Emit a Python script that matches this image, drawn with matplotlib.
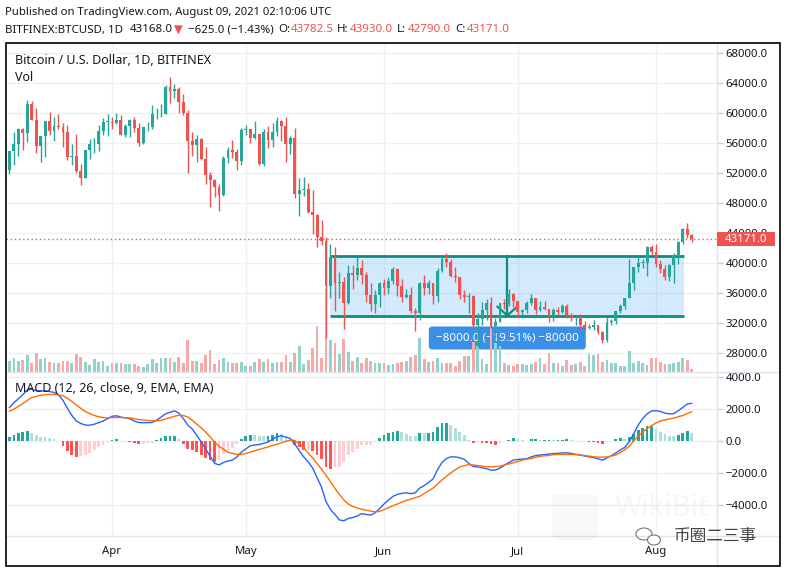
import numpy as np
import pandas as pd
import matplotlib
matplotlib.use("Agg")
import matplotlib.pyplot as plt
from matplotlib.patches import Rectangle, FancyBboxPatch, Ellipse
from matplotlib.lines import Line2D
from matplotlib.transforms import blended_transform_factory

plt.rcParams['font.family'] = ['Noto Sans', 'DejaVu Sans']

# ---------------- data ----------------
dates = pd.date_range("2021-03-09", "2021-08-09", freq="D")

open_ = [52400, 54900, 55900, 57800, 57300, 61200, 59000, 55600, 56900, 58900,
         57600, 58300, 58100, 57400, 54100, 54300, 52300, 51300, 55100, 55800,
         55800, 57600, 58800, 58800, 58700, 59000, 57100, 58200, 59100, 58000,
         56000, 58100, 58100, 59800, 59800, 59900, 63500, 62900, 63200, 61500,
         60000, 56200, 55700, 56500, 53800, 51700, 51100, 50100, 49100, 54000,
         55000, 54800, 53600, 57700, 57800, 56600, 57200, 53200, 57500, 56400,
         57400, 58900, 58300, 55800, 56700, 49200, 49700, 49900, 46800, 46400,
         43500, 42900, 37000, 40800, 37300, 37500, 34700, 38700, 38400, 39300,
         38400, 35700, 34600, 35700, 37300, 36700, 37600, 39200, 36900, 35500,
         35800, 33600, 33400, 37400, 36700, 37300, 35600, 39000, 40500, 40200,
         38300, 38100, 35800, 35500, 35600, 31700, 32500, 33700, 34700, 31600,
         32200, 34700, 34500, 35900, 35000, 33500, 33800, 34700, 35300, 33700,
         34200, 33900, 32900, 33800, 33500, 34300, 33100, 32700, 32800, 31800,
         31400, 31500, 31800, 30800, 29800, 32100, 32300, 33600, 34300, 35400,
         37300, 39500, 40000, 40000, 42200, 41500, 39900, 39200, 38200, 39700,
         40900, 42800, 44600, 43782.5]
high = [54900, 57400, 58000, 58000, 61700, 61600, 60600, 56900, 58900, 60100,
        59400, 59800, 58600, 58400, 55800, 57200, 53200, 55100, 56500, 56600,
        58400, 59300, 59800, 59500, 60000, 59700, 58500, 59200, 59400, 58600,
        58100, 58800, 61000, 60700, 61200, 63700, 64800, 63800, 63500, 62500,
        60400, 57500, 57000, 56700, 55400, 52100, 51200, 50500, 54300, 55400,
        56400, 55200, 58000, 58400, 57900, 58900, 57200, 57900, 58300, 58600,
        59400, 59100, 59500, 56900, 58000, 51300, 51500, 50600, 49700, 46600,
        45800, 43500, 42500, 42200, 38800, 38200, 39800, 39800, 40800, 40400,
        38800, 37300, 36400, 37500, 37900, 38200, 39500, 39300, 37900, 36500,
        36800, 34000, 37500, 38400, 37700, 37400, 39300, 41000, 41300, 40500,
        39500, 38200, 36400, 36000, 35700, 33300, 34800, 35200, 35500, 32700,
        34700, 35200, 36600, 36000, 35000, 33900, 34900, 35900, 35300, 35000,
        35000, 33900, 34000, 34200, 34600, 34600, 33300, 33100, 33200, 32300,
        31900, 32400, 31800, 31000, 32800, 32600, 33600, 34500, 35400, 40500,
        39500, 40900, 40600, 42300, 42400, 42600, 40400, 39800, 39900, 41400,
        43000, 44700, 45300, 43930]
low = [51900, 53100, 54300, 55000, 56100, 59000, 54600, 53400, 54100, 57000,
       56300, 57900, 55500, 53700, 53000, 52000, 50400, 51300, 53900, 54700,
       54900, 57000, 56900, 57900, 58500, 57000, 56800, 56800, 57400, 55600,
       55900, 57600, 57800, 59200, 59400, 59800, 61300, 62000, 60000, 59700,
       52000, 54200, 53400, 53700, 50500, 47500, 48800, 47000, 48900, 53300,
       54000, 52400, 53000, 57100, 56000, 56500, 53100, 52900, 55300, 55500,
       56900, 56200, 53400, 54500, 48600, 46300, 48900, 46700, 43900, 42200,
       42400, 30000, 35300, 33600, 35400, 31200, 34600, 36500, 37800, 37200,
       34800, 33600, 33400, 34200, 35700, 35900, 37200, 35600, 34800, 35300,
       33400, 31000, 32400, 35800, 35900, 34600, 34800, 38800, 39500, 38100,
       37500, 35200, 34800, 33400, 31300, 28800, 31700, 32400, 31300, 30200,
       32100, 33900, 34300, 34100, 32800, 32700, 33300, 34400, 33200, 33600,
       33800, 32100, 32300, 33100, 33300, 32700, 32300, 31700, 31200, 31100,
       31200, 31100, 30500, 29300, 29500, 31700, 31900, 33400, 33900, 35300,
       36400, 38800, 39300, 38300, 41100, 39500, 38700, 37700, 37600, 37400,
       39900, 42500, 43300, 42790]
close = [54900, 55900, 57800, 57300, 61200, 59000, 55600, 56900, 58900, 57600,
         58300, 58100, 57400, 54100, 54300, 52300, 51300, 55100, 55800, 55800,
         57600, 58800, 58800, 58700, 59000, 57100, 58200, 59100, 58000, 56000,
         58100, 58100, 59800, 59800, 59900, 63500, 62900, 63200, 61500, 60000,
         56200, 55700, 56500, 53800, 51700, 51100, 50100, 49100, 54000, 55000,
         54800, 53600, 57700, 57800, 56600, 57200, 53200, 57500, 56400, 57400,
         58900, 58300, 55800, 56700, 49200, 49700, 49900, 46800, 46400, 43500,
         42900, 37000, 40800, 37300, 37500, 34700, 38700, 38400, 39300, 38400,
         35700, 34600, 35700, 37300, 36700, 37600, 39200, 36900, 35500, 35800,
         33600, 33400, 37400, 36700, 37300, 35600, 39000, 40500, 40200, 38300,
         38100, 35800, 35500, 35600, 31700, 32500, 33700, 34700, 31600, 32200,
         34700, 34500, 35900, 35000, 33500, 33800, 34700, 35300, 33700, 34200,
         33900, 32900, 33800, 33500, 34300, 33100, 32700, 32800, 31800, 31400,
         31500, 31800, 30800, 29800, 32100, 32300, 33600, 34300, 35400, 37300,
         39500, 40000, 40000, 42200, 41500, 39900, 39200, 38200, 39700, 40900,
         42800, 44600, 43800, 43171]
volume = [11, 14, 11, 12, 17, 9, 19, 13, 14, 10, 9, 9, 11, 11, 9, 18, 15, 10, 7, 13,
          10, 11, 6, 9, 9, 9, 8, 8, 8, 6, 5, 8, 13, 9, 14, 14, 14, 10, 15, 9,
          32, 11, 11, 9, 17, 22, 8, 12, 14, 10, 9, 9, 10, 6, 6, 10, 13, 10, 13, 9,
          10, 10, 17, 10, 19, 26, 8, 12, 24, 46, 14, 83, 32, 29, 18, 33, 20, 11, 15, 9,
          14, 11, 9, 9, 9, 7, 8, 9, 10, 11, 15, 17, 34, 13, 10, 11, 14, 9, 9, 9,
          6, 11, 16, 16, 30, 26, 13, 8, 44, 29, 26, 9, 7, 6, 8, 8, 7, 8, 10, 14,
          8, 19, 9, 9, 6, 12, 7, 8, 10, 6, 18, 17, 18, 10, 12, 9, 9, 6, 6, 21,
          9, 11, 9, 7, 14, 14, 10, 8, 8, 9, 10, 14, 12, 3]
macd = [2100, 2400, 2650, 2900, 3200, 3250, 3150, 3150, 3150, 3100,
        3050, 2900, 2550, 2050, 1600, 1250, 1100, 1000, 990, 1050,
        1150, 1250, 1400, 1550, 1580, 1500, 1450, 1400, 1250, 1160,
        1150, 1150, 1160, 1300, 1500, 1700, 1800, 1890, 1750, 1400,
        1000, 750, 350, -50, -500, -950, -1400, -1500, -1350, -1250,
        -1200, -1000, -700, -500, -300, -250, -220, -150, -60, 100,
        280, 320, 250, 150, -200, -600, -1000, -1300, -1700, -2300,
        -2900, -3800, -4300, -4600, -4950, -5000, -4850, -4800, -4700, -4550,
        -4600, -4650, -4500, -4250, -3950, -3700, -3470, -3350, -3280, -3250,
        -3300, -3250, -2950, -2800, -2600, -2380, -1800, -1350, -1100, -990,
        -1000, -1050, -1150, -1400, -1600, -1620, -1680, -1740, -1830, -1820,
        -1700, -1520, -1350, -1200, -1160, -1130, -1110, -1000, -910, -880,
        -850, -820, -790, -770, -750, -740, -780, -840, -880, -940,
        -990, -1040, -1120, -1200, -1060, -920, -750, -560, -400, -50,
        450, 1000, 1400, 1700, 1880, 1900, 1850, 1750, 1700, 1720,
        1900, 2100, 2320, 2360]
signal = [1870, 2000, 2170, 2350, 2550, 2720, 2800, 2870, 2910, 2920,
          2920, 2880, 2840, 2680, 2470, 2260, 2050, 1850, 1720, 1600,
          1520, 1470, 1460, 1470, 1480, 1470, 1460, 1440, 1400, 1350,
          1320, 1290, 1270, 1265, 1300, 1380, 1460, 1550, 1610, 1600,
          1500, 1300, 1060, 830, 560, 270, -70, -330, -510, -700,
          -780, -830, -840, -790, -700, -610, -530, -450, -370, -280,
          -210, -110, -20, 60, 40, -200, -420, -760, -1050, -1420,
          -1770, -2150, -2560, -2970, -3350, -3700, -3950, -4100, -4200, -4280,
          -4330, -4400, -4430, -4420, -4300, -4180, -4060, -3950, -3830, -3720,
          -3640, -3550, -3470, -3300, -3130, -2950, -2700, -2450, -2210, -2000,
          -1800, -1620, -1550, -1480, -1500, -1540, -1580, -1610, -1620, -1600,
          -1580, -1500, -1430, -1370, -1290, -1200, -1140, -1100, -1020, -960,
          -930, -900, -860, -845, -840, -840, -840, -850, -880, -910,
          -950, -990, -1010, -1010, -1000, -940, -880, -730, -550, -320,
          0, 310, 560, 780, 960, 1130, 1260, 1320, 1380, 1430,
          1520, 1600, 1720, 1830]

price_ticks = [28000, 32000, 36000, 40000, 44000, 48000, 52000, 56000, 60000, 64000, 68000]
macd_ticks = [4000, 2000, 0, -2000, -4000]
macd_tick_labels = ["4000.0", "2000.0", "0.0", "\u22122000.0", "\u22124000.0"]
month_starts = ["2021-04-01", "2021-05-01", "2021-06-01", "2021-07-01", "2021-08-01"]
month_labels = ["Apr", "May", "Jun", "Jul", "Aug"]
last_price = 43171.0
range_top, range_bottom = 41000.0, 33000.0
range_start, range_end = "2021-05-20", "2021-08-07"
range_label = "\u22128000.0 (\u221219.51%) \u221280000"

header1 = "Published on TradingView.com, August 09, 2021 02:10:06 UTC"
title = "Bitcoin / U.S. Dollar, 1D, BITFINEX"
macd_title = "MACD (12, 26, close, 9, EMA, EMA)"

for arr in (open_, high, low, close, volume, macd, signal):
    assert len(arr) == len(dates), len(arr)

# ---------------- style ----------------
UP, DOWN = "#26A69A", "#EF5350"
VOL_UP, VOL_DN = "#92D2CC", "#F7A9A7"
TXT = "#131722"
GRID = "#EEF0F3"
SEP = "#E0E3EB"
TEAL = "#0E8C7F"

W, H = 787, 571
fig = plt.figure(figsize=(W / 100, H / 100), dpi=100)


def box(x0, y0, x1, y1):
    return [x0 / W, 1 - y1 / H, (x1 - x0) / W, (y1 - y0) / H]


ax = fig.add_axes(box(6, 43, 717, 372))
axm = fig.add_axes(box(6, 372, 717, 536))

x = np.arange(len(dates))
o = np.array(open_, float); h = np.array(high, float)
l = np.array(low, float); c = np.array(close, float)
up = c >= o

PXD = 4.459   # pixels per day
X0 = 9.44     # pixel of first candle
xlim = ((6 - X0) / PXD, (717 - X0) / PXD)
for a in (ax, axm):
    a.set_xlim(*xlim)
    for s in a.spines.values():
        s.set_visible(False)
ax.set_ylim(25467, 69333)
axm.set_ylim(-5956, 4326)

idx = {d: i for i, d in enumerate(dates.strftime("%Y-%m-%d"))}
month_x = [idx[m] for m in month_starts]

# grid
for p in price_ticks:
    ax.axhline(p, color=GRID, lw=1, zorder=0)
for t in macd_ticks:
    axm.axhline(t, color=GRID, lw=1, zorder=0)
for mx in month_x:
    ax.axvline(mx, color=GRID, lw=1, zorder=0)
    axm.axvline(mx, color=GRID, lw=1, zorder=0)

# price range tool (behind everything)
rx0, rx1 = idx[range_start], idx[range_end] + 0.3
ax.add_patch(Rectangle((rx0, range_bottom), rx1 - rx0, range_top - range_bottom,
                       facecolor="#2196F3", alpha=0.2, edgecolor="none", zorder=0.5))
ax.plot([rx0, rx1], [range_top, range_top], color=TEAL, lw=2, zorder=0.6, solid_capstyle="butt")
ax.plot([rx0, rx1], [range_bottom, range_bottom], color=TEAL, lw=2, zorder=0.6, solid_capstyle="butt")
rxc = (rx0 + rx1) / 2
ax.plot([rxc, rxc], [range_top, range_bottom], color=TEAL, lw=1.6, zorder=0.7)

# volume (overlay at bottom of main pane)
vtr = blended_transform_factory(ax.transData, ax.transAxes)
VOL_AXIS_MAX = 329.0
ax.bar(x, np.array(volume) / VOL_AXIS_MAX, width=0.62, bottom=0,
       color=[VOL_UP if u else VOL_DN for u in up], transform=vtr, zorder=1.5)

# candles
col = [UP if u else DOWN for u in up]
ax.vlines(x, l, h, colors=col, lw=1, zorder=3)
body = np.maximum(np.abs(c - o), 70)
ax.bar(x, body, bottom=np.minimum(o, c), width=0.64, color=col, zorder=3.1)

# last price dotted line
ax.axhline(last_price, color=DOWN, lw=1, ls=(0, (1, 2)), zorder=2.5)

# MACD pane
mc = np.array(macd, float); sg = np.array(signal, float)
hist = mc - sg
hcol = []
for i, v in enumerate(hist):
    prev = hist[i - 1] if i > 0 else v
    if v >= 0:
        hcol.append("#26A69A" if v >= prev else "#B2DFDB")
    else:
        hcol.append("#FF5252" if v < prev else "#FFCDD2")
axm.bar(x, hist, width=0.62, color=hcol, zorder=1)
axm.plot(x, mc, color="#2962FF", lw=1, zorder=2)
axm.plot(x, sg, color="#FF6D00", lw=1, zorder=2)

# ticks
for a in (ax, axm):
    a.yaxis.tick_right()
    a.tick_params(axis="y", length=4, width=1, color="#C9CCD3", labelcolor=TXT,
                  labelsize=8.2, pad=2)
ax.set_yticks(price_ticks)
ax.set_yticklabels([f"{p:.1f}" for p in price_ticks])
axm.set_yticks(macd_ticks)
axm.set_yticklabels(macd_tick_labels)
ax.set_xticks([])
axm.set_xticks(month_x)
axm.set_xticklabels(month_labels)
axm.tick_params(axis="x", length=0, labelsize=8.2, labelcolor=TXT, pad=7)

fig.canvas.draw()
inch = fig.dpi_scale_trans

# arrow head at bottom of the range tool's vertical line
tx, ty = ax.transData.transform((rxc, range_bottom))
for dx in (-10, 10):
    ax.add_line(Line2D([tx / 100, (tx + dx) / 100], [ty / 100, (ty + 9) / 100], transform=inch,
                       color=TEAL, lw=1.6, zorder=0.7, solid_capstyle="round"))

# price tag on axis
_, py = ax.transData.transform((0, last_price))
fig.add_artist(Rectangle((717 / 100, (py - 7) / 100), 58 / 100, 14 / 100, transform=inch,
                         facecolor=DOWN, edgecolor="none", zorder=20))
fig.text(746 / W, py / H, f"{last_price:.1f}", color="white", fontsize=8.2, fontweight="bold",
         ha="center", va="center", zorder=21)

# range label (drawn under candles and volume)
lw_, lh_ = 157, 23
lab_top = ty - 11
ax.add_patch(FancyBboxPatch(((tx - lw_ / 2) / 100, (lab_top - lh_) / 100), lw_ / 100, lh_ / 100,
                            boxstyle="round,pad=0,rounding_size=0.035", transform=inch,
                            facecolor="#3A8FE6", edgecolor="none", zorder=0.8))
ax.text(tx / 100, (lab_top - lh_ / 2) / 100, range_label, transform=inch,
        color="white", fontsize=8.3, ha="center", va="center", zorder=0.9)

# pane labels
fig.text(15 / W, 1 - 60.5 / H, title, fontsize=9, fontweight="semibold", color=TXT, va="center")
fig.text(15 / W, 1 - 77 / H, "Vol", fontsize=9, color=TXT, va="center")
fig.text(15 / W, 1 - 389 / H, macd_title, fontsize=9, color=TXT, va="center")

# header
fig.text(5 / W, 1 - 12.7 / H, header1, fontsize=8.1, color=TXT, va="center")
pieces = [("BITFINEX:BTCUSD, 1D", 5, "bold", TXT),
          ("43168.0", 130, "normal", TXT),
          ("\u25BC", 174, "normal", DOWN),
          ("\u2212625.0 (\u22121.43%)", 188, "normal", TXT),
          ("O:", 278, "bold", TXT), ("43782.5", 290.5, "normal", DOWN),
          ("H:", 337, "bold", TXT), ("43930.0", 349.5, "normal", DOWN),
          ("L:", 397, "bold", TXT), ("42790.0", 408, "normal", DOWN),
          ("C:", 455, "bold", TXT), ("43171.0", 467, "normal", DOWN)]
for s, px, wt, cl in pieces:
    fam = ["DejaVu Sans"] if s == "\u25BC" else ["Noto Sans", "DejaVu Sans"]
    fig.text(px / W, 1 - 30 / H, s, fontsize=8.3, fontweight=wt, color=cl, va="center", family=fam)

# separators and frame
def hline(y, x0, x1, color, lw):
    fig.add_artist(Line2D([x0 / W, x1 / W], [1 - y / H] * 2, transform=fig.transFigure, color=color, lw=lw))

def vline(xp, y0, y1, color, lw):
    fig.add_artist(Line2D([xp / W] * 2, [1 - y0 / H, 1 - y1 / H], transform=fig.transFigure, color=color, lw=lw))

hline(372, 6, 780, SEP, 1)
hline(536, 6, 780, SEP, 1)
vline(717, 43, 566, SEP, 1)
fig.add_artist(Rectangle((6 / W, 1 - 566 / H), 774 / W, 523 / H, transform=fig.transFigure,
                         fill=False, edgecolor="black", lw=1.2, zorder=30))

# watermark
fig.text(662 / W, 1 - 508 / H, "WikiBit", fontsize=21, fontweight="bold", color="#888888",
         alpha=0.07, ha="center", va="center", zorder=25)
fig.add_artist(FancyBboxPatch((552 / W, 1 - 540 / H), 46 / W, 46 / H, boxstyle="round,pad=0,rounding_size=0.01",
                              transform=fig.transFigure, facecolor="#888888", alpha=0.06,
                              edgecolor="none", zorder=25))
fig.add_artist(Ellipse((644 / W, 1 - 534 / H), 16 / W, 12 / H, transform=fig.transFigure,
                       fill=False, edgecolor="#777777", lw=0.8, zorder=26))
fig.add_artist(Ellipse((654 / W, 1 - 540 / H), 13 / W, 10 / H, transform=fig.transFigure,
                       facecolor="white", edgecolor="#777777", lw=0.8, zorder=26))
fig.text(715 / W, 1 - 537 / H, "币圈二三事", fontsize=12, color="#444444", ha="center", va="center",
         family=["Noto Sans CJK SC", "DejaVu Sans"], zorder=27)

fig.savefig("out.png", dpi=100, facecolor="white")
